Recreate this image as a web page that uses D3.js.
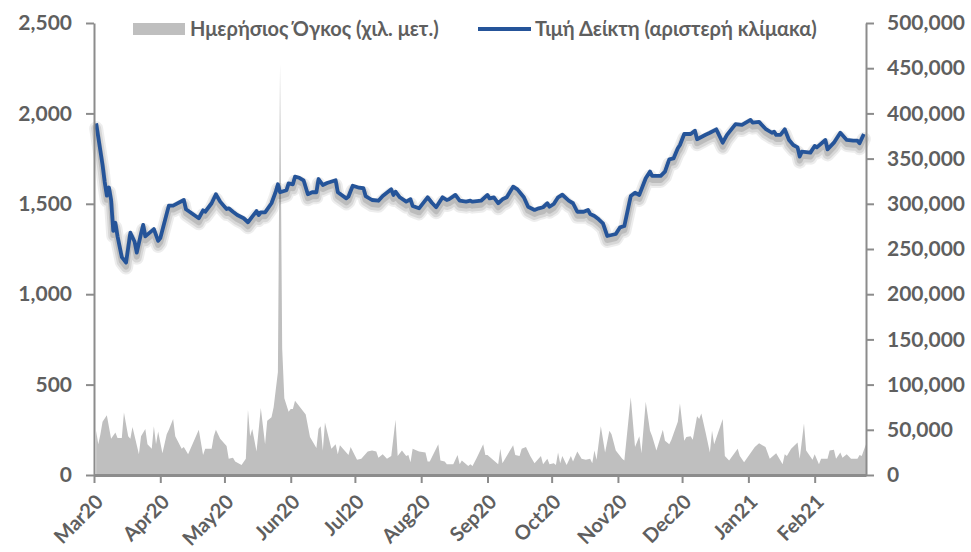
<!DOCTYPE html>
<html><head><meta charset="utf-8">
<script src="https://cdn.jsdelivr.net/npm/d3@7"></script>
<style>
body{margin:0;background:#fff;}
svg text{font-family:Lato,"Open Sans",sans-serif;font-weight:bold;fill:#5f5f5f;}
</style></head><body>
<svg id="chart" width="971" height="552"></svg>
<script>
// ---- data ----
const lineDates = ["2020-03-02","2020-03-05","2020-03-06","2020-03-07","2020-03-08","2020-03-09","2020-03-10","2020-03-11","2020-03-12","2020-03-14","2020-03-16","2020-03-18","2020-03-20","2020-03-21","2020-03-23","2020-03-24","2020-03-25","2020-03-28","2020-03-29","2020-03-31","2020-04-01","2020-04-05","2020-04-07","2020-04-12","2020-04-13","2020-04-19","2020-04-21","2020-04-22","2020-04-25","2020-04-27","2020-04-29","2020-05-02","2020-05-03","2020-05-05","2020-05-07","2020-05-10","2020-05-12","2020-05-14","2020-05-16","2020-05-17","2020-05-18","2020-05-20","2020-05-23","2020-05-25","2020-05-26","2020-05-27","2020-05-30","2020-05-31","2020-06-02","2020-06-03","2020-06-05","2020-06-07","2020-06-09","2020-06-11","2020-06-13","2020-06-14","2020-06-16","2020-06-18","2020-06-22","2020-06-23","2020-06-27","2020-06-28","2020-06-30","2020-07-03","2020-07-05","2020-07-06","2020-07-09","2020-07-12","2020-07-14","2020-07-18","2020-07-19","2020-07-20","2020-07-22","2020-07-25","2020-07-27","2020-07-28","2020-07-31","2020-08-04","2020-08-06","2020-08-08","2020-08-11","2020-08-13","2020-08-14","2020-08-17","2020-08-19","2020-08-22","2020-08-24","2020-08-25","2020-08-29","2020-09-01","2020-09-02","2020-09-04","2020-09-06","2020-09-08","2020-09-10","2020-09-13","2020-09-15","2020-09-18","2020-09-20","2020-09-23","2020-09-25","2020-09-27","2020-09-29","2020-09-30","2020-10-02","2020-10-04","2020-10-06","2020-10-09","2020-10-11","2020-10-13","2020-10-16","2020-10-18","2020-10-19","2020-10-21","2020-10-23","2020-10-25","2020-10-27","2020-10-31","2020-11-02","2020-11-04","2020-11-07","2020-11-09","2020-11-11","2020-11-14","2020-11-16","2020-11-17","2020-11-21","2020-11-23","2020-11-25","2020-11-27","2020-11-29","2020-11-30","2020-12-02","2020-12-05","2020-12-07","2020-12-08","2020-12-12","2020-12-14","2020-12-17","2020-12-20","2020-12-22","2020-12-26","2020-12-29","2021-01-02","2021-01-03","2021-01-06","2021-01-09","2021-01-12","2021-01-13","2021-01-14","2021-01-16","2021-01-18","2021-01-20","2021-01-22","2021-01-24","2021-01-25","2021-01-26","2021-01-30","2021-02-01","2021-02-02","2021-02-06","2021-02-07","2021-02-10","2021-02-13","2021-02-16","2021-02-19","2021-02-21","2021-02-22","2021-02-24"];
const indexValues = [1945,1715,1620,1545,1590,1520,1350,1395,1320,1205,1175,1340,1290,1230,1335,1383,1320,1350,1360,1295,1310,1490,1490,1521,1470,1420,1464,1456,1503,1553,1512,1471,1475,1456,1438,1420,1398,1429,1460,1438,1453,1453,1503,1567,1608,1564,1575,1613,1608,1650,1644,1630,1553,1564,1564,1637,1604,1615,1630,1564,1530,1540,1600,1589,1586,1543,1521,1517,1543,1580,1549,1567,1536,1512,1525,1488,1475,1536,1506,1481,1536,1521,1525,1549,1517,1512,1517,1512,1517,1549,1530,1536,1503,1525,1536,1595,1580,1536,1484,1466,1475,1481,1503,1484,1499,1536,1550,1517,1503,1456,1456,1466,1444,1433,1414,1392,1322,1333,1370,1377,1543,1561,1549,1641,1678,1654,1654,1678,1746,1751,1807,1825,1886,1886,1904,1857,1882,1893,1912,1838,1881,1941,1936,1964,1949,1953,1915,1893,1899,1881,1881,1912,1853,1825,1812,1761,1788,1783,1820,1812,1853,1801,1838,1893,1853,1849,1849,1835,1886];

const volumeDates = ["2020-03-02","2020-03-03","2020-03-04","2020-03-05","2020-03-07","2020-03-09","2020-03-11","2020-03-12","2020-03-14","2020-03-15","2020-03-17","2020-03-18","2020-03-19","2020-03-22","2020-03-23","2020-03-25","2020-03-26","2020-03-28","2020-03-29","2020-03-30","2020-03-31","2020-04-02","2020-04-04","2020-04-05","2020-04-07","2020-04-08","2020-04-11","2020-04-12","2020-04-14","2020-04-19","2020-04-21","2020-04-22","2020-04-25","2020-04-26","2020-04-27","2020-04-29","2020-05-02","2020-05-03","2020-05-05","2020-05-06","2020-05-09","2020-05-11","2020-05-12","2020-05-13","2020-05-14","2020-05-16","2020-05-18","2020-05-20","2020-05-21","2020-05-23","2020-05-24","2020-05-26","2020-05-27","2020-05-28","2020-05-29","2020-05-31","2020-06-01","2020-06-02","2020-06-03","2020-06-08","2020-06-10","2020-06-13","2020-06-14","2020-06-15","2020-06-16","2020-06-17","2020-06-20","2020-06-22","2020-06-23","2020-06-24","2020-06-28","2020-06-29","2020-07-02","2020-07-04","2020-07-07","2020-07-09","2020-07-11","2020-07-12","2020-07-14","2020-07-16","2020-07-18","2020-07-20","2020-07-21","2020-07-23","2020-07-25","2020-07-26","2020-07-27","2020-07-28","2020-07-31","2020-08-03","2020-08-04","2020-08-05","2020-08-09","2020-08-10","2020-08-12","2020-08-13","2020-08-16","2020-08-18","2020-08-19","2020-08-20","2020-08-23","2020-08-24","2020-08-25","2020-08-27","2020-08-30","2020-08-31","2020-09-01","2020-09-06","2020-09-07","2020-09-08","2020-09-13","2020-09-14","2020-09-16","2020-09-17","2020-09-19","2020-09-21","2020-09-23","2020-09-26","2020-09-27","2020-09-29","2020-09-30","2020-10-02","2020-10-03","2020-10-04","2020-10-05","2020-10-06","2020-10-08","2020-10-10","2020-10-11","2020-10-13","2020-10-15","2020-10-17","2020-10-19","2020-10-20","2020-10-21","2020-10-22","2020-10-24","2020-10-26","2020-10-28","2020-10-29","2020-10-31","2020-11-03","2020-11-04","2020-11-07","2020-11-09","2020-11-11","2020-11-12","2020-11-14","2020-11-16","2020-11-17","2020-11-19","2020-11-22","2020-11-23","2020-11-25","2020-11-26","2020-11-29","2020-11-30","2020-12-02","2020-12-03","2020-12-05","2020-12-06","2020-12-08","2020-12-09","2020-12-10","2020-12-12","2020-12-14","2020-12-15","2020-12-16","2020-12-20","2020-12-21","2020-12-23","2020-12-27","2020-12-28","2020-12-30","2021-01-04","2021-01-06","2021-01-09","2021-01-11","2021-01-14","2021-01-17","2021-01-18","2021-01-19","2021-01-21","2021-01-24","2021-01-25","2021-01-27","2021-01-28","2021-01-31","2021-02-01","2021-02-03","2021-02-04","2021-02-07","2021-02-08","2021-02-10","2021-02-11","2021-02-13","2021-02-14","2021-02-16","2021-02-18","2021-02-21","2021-02-22","2021-02-23","2021-02-25"];
const volumeValues = [49000,34000,45000,59000,66000,40000,47000,41000,41000,69000,43000,40000,53000,23000,43000,51000,34000,29000,54000,34000,48000,24000,45000,50000,62000,43000,29000,31000,23000,50000,22000,29000,29000,43000,50000,40000,32000,18000,19000,15000,11000,18000,72000,43000,51000,26000,74000,34000,60000,64000,75000,114000,455000,140000,85000,70000,73000,73000,82000,67000,42000,30000,51000,54000,27000,58000,29000,34000,23000,33000,22000,31000,17000,18000,26000,27000,26000,19000,23000,18000,21000,61000,21000,27000,21000,22000,14000,29000,26000,25000,15000,15000,34000,16000,15000,12000,12000,22000,12000,16000,10000,12000,10000,19000,34000,22000,22000,12000,29000,13000,33000,22000,21000,29000,31000,21000,13000,21000,12000,18000,12000,13000,11000,25000,13000,21000,11000,21000,15000,26000,18000,17000,18000,13000,27000,17000,54000,25000,49000,45000,27000,18000,16000,86000,31000,43000,24000,81000,49000,43000,27000,50000,38000,34000,39000,59000,79000,38000,42000,43000,39000,65000,62000,68000,47000,25000,49000,34000,62000,21000,16000,29000,21000,14000,31000,35000,31000,18000,24000,12000,23000,21000,29000,36000,18000,57000,27000,17000,23000,12000,18000,18000,27000,28000,18000,25000,19000,23000,18000,18000,22000,21000,34000];

const leftTicks = [0, 500, 1000, 1500, 2000, 2500];
const rightTicks = [0, 50000, 100000, 150000, 200000, 250000, 300000, 350000, 400000, 450000, 500000];
const legendLabels = ["Ημερήσιος Όγκος (χιλ. μετ.)", "Τιμή Δείκτη (αριστερή κλίμακα)"];

// ---- chart ----
const W = 971, H = 552;
const m = {top: 23, right: 105, bottom: 77, left: 94};
const parse = d3.timeParse("%Y-%m-%d");
const lineData = lineDates.map((d, i) => ({date: parse(d), v: indexValues[i]}));
const volData = volumeDates.map((d, i) => ({date: parse(d), v: volumeValues[i]}));

const svg = d3.select("#chart");
const x = d3.scaleTime().domain([parse("2020-03-01"), parse("2021-02-25")]).range([m.left, W - m.right]);
const yL = d3.scaleLinear().domain([0, 2500]).range([H - m.bottom, m.top]);
const yR = d3.scaleLinear().domain([0, 500000]).range([H - m.bottom, m.top]);

// volume area
svg.append("path").datum(volData)
  .attr("fill", "#bfbfbf")
  .attr("d", d3.area().x(d => x(d.date)).y0(yR(0)).y1(d => yR(d.v)));

const lineGen = d3.line().x(d => x(d.date)).y(d => yL(d.v));

// soft shadow under the index line (layered translucent strokes)
[[14, 0.07, 5], [10, 0.09, 5], [6, 0.12, 4]].forEach(([w, o, dy]) => {
  svg.append("path").datum(lineData)
    .attr("fill", "none").attr("stroke", "#000").attr("stroke-width", w)
    .attr("stroke-opacity", o).attr("stroke-linejoin", "round").attr("stroke-linecap", "round")
    .attr("transform", `translate(0,${dy})`)
    .attr("d", lineGen);
});

// index line
svg.append("path").datum(lineData)
  .attr("fill", "none").attr("stroke", "#255499").attr("stroke-width", 3.8)
  .attr("stroke-linejoin", "round")
  .attr("d", lineGen);

function styleAxis(g) {
  g.selectAll("path.domain").attr("stroke", "#8c8c8c").attr("stroke-width", 2);
  g.selectAll(".tick line").attr("stroke", "#8c8c8c").attr("stroke-width", 2);
  g.selectAll(".tick text").style("font-size", "21px").attr("fill", "#5f5f5f");
}

const fmt = d3.format(",");
const gL = svg.append("g").attr("transform", `translate(${m.left},0)`)
  .call(d3.axisLeft(yL).tickValues(leftTicks).tickFormat(fmt).tickSizeInner(8).tickSizeOuter(0).tickPadding(14));
styleAxis(gL);

const gR = svg.append("g").attr("transform", `translate(${W - m.right},0)`)
  .call(d3.axisRight(yR).tickValues(rightTicks).tickFormat(fmt).tickSizeInner(8).tickSizeOuter(0).tickPadding(13));
styleAxis(gR);

const gX = svg.append("g").attr("transform", `translate(0,${H - m.bottom})`)
  .call(d3.axisBottom(x).ticks(d3.timeMonth.every(1)).tickFormat(d3.timeFormat("%b%y")).tickSizeInner(8).tickSizeOuter(0));
styleAxis(gX);
gX.select("path.domain").attr("stroke-width", 3);
gX.selectAll(".tick text")
  .style("font-size", "20px")
  .attr("text-anchor", "end").attr("dy", null).attr("y", null)
  .attr("transform", "translate(10,28) rotate(-45)");

// legend
const lg = svg.append("g");
lg.append("rect").attr("x", 133).attr("y", 23).attr("width", 52).attr("height", 12).attr("fill", "#bfbfbf");
lg.append("text").attr("x", 190).attr("y", 36).style("font-size", "20px").text(legendLabels[0]);
lg.append("line").attr("x1", 478).attr("x2", 531).attr("y1", 29).attr("y2", 29)
  .attr("stroke", "#255499").attr("stroke-width", 4);
lg.append("text").attr("x", 535).attr("y", 36).style("font-size", "20px").text(legendLabels[1]);
</script>
</body></html>
